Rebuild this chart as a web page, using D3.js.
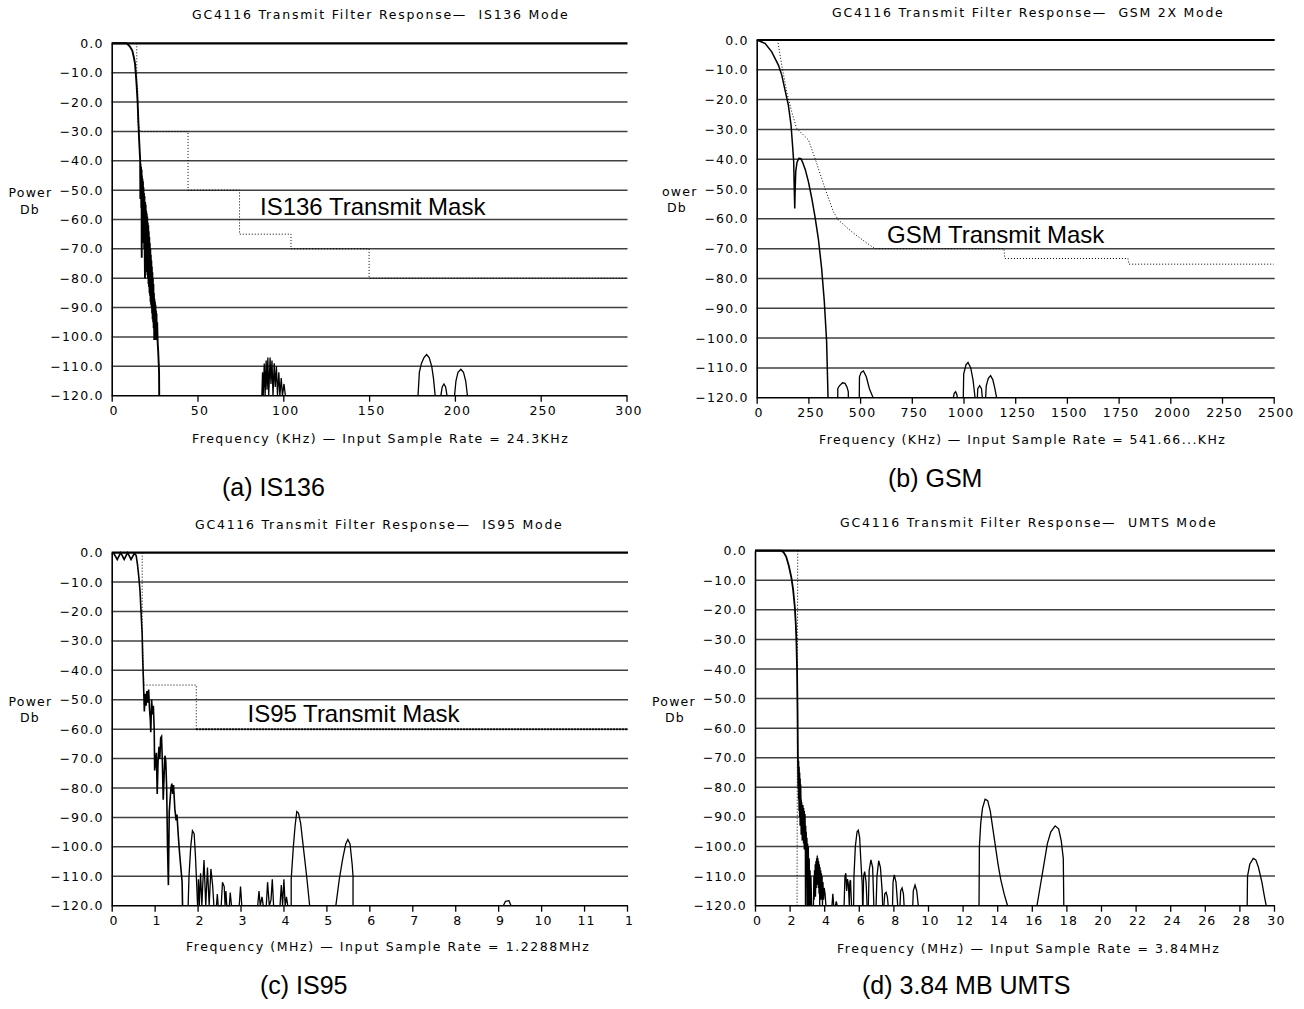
<!DOCTYPE html>
<html>
<head>
<script src="https://d3js.org/d3.v7.min.js"></script>
<style>
  body { margin: 0; background: #ffffff; }
  text { fill: #000; }
  .small { font-family: "DejaVu Sans", sans-serif; font-size: 12.5px; letter-spacing: 1.2px; white-space: pre; }
  .big { font-family: "Liberation Sans", Arial, sans-serif; }
</style>
</head>
<body>
<svg id="canvas" width="1304" height="1009"></svg>
<script>
const svg = d3.select('#canvas');

// ---- shared y axis ----
const dbTicks = [0, -10, -20, -30, -40, -50, -60, -70, -80, -90, -100, -110, -120];

// ---- (a) IS136, kHz ----
const is136Ticks = [0, 50, 100, 150, 200, 250, 300];
const is136TickLabels = ['0', '50', '100', '150', '200', '250', '300'];
const is136Response = [
  [0, 0], [8.7, 0], [10.5, -1], [12, -2.5], [13, -5], [13.6, -7], [14, -10], [14.5, -14], [15.1, -20],
  [15.5, -26], [16.0, -33], [16.6, -40],
  [16.7, -53], [16.8, -41], [16.95, -50], [17.1, -42], [17.25, -56], [17.4, -43], [17.5, -73], [17.6, -45],
  [17.75, -60], [17.9, -46], [18.05, -64], [18.2, -47], [18.35, -66], [18.5, -49], [18.65, -68], [18.8, -51],
  [18.95, -70], [19.1, -52], [19.25, -72], [19.4, -80], [19.5, -54], [19.65, -73], [19.8, -55], [19.95, -75],
  [20.1, -57], [20.25, -76], [20.4, -58], [20.55, -78], [20.7, -59], [20.85, -79], [21.0, -61], [21.15, -80],
  [21.3, -62], [21.45, -82], [21.6, -64], [21.75, -83], [21.9, -66], [22.05, -85], [22.2, -68], [22.35, -86],
  [22.5, -70], [22.65, -88], [22.8, -72], [22.95, -89], [23.1, -74], [23.25, -90], [23.4, -76], [23.55, -92],
  [23.7, -78], [23.85, -94], [24.0, -80], [24.15, -95], [24.3, -82], [24.45, -97], [24.6, -85], [24.8, -101],
  [24.9, -87], [25.05, -99], [25.2, -88], [25.35, -100], [25.5, -89], [25.65, -100], [25.8, -91], [25.95, -101],
  [26.1, -92], [26.3, -101], [26.5, -95], [26.8, -102], [27.1, -105], [27.4, -109], [27.6, -112], [27.7, -120]
];
const is136Lobes = [
  [[87.5, -120], [87.9, -112], [88.3, -120], [88.9, -109], [89.4, -120], [90.0, -108], [90.5, -118], [91.0, -107],
   [91.5, -120], [92.3, -107], [92.8, -116], [93.4, -108], [94.0, -120], [94.7, -109], [95.3, -117], [96.0, -110],
   [96.6, -120], [97.4, -112], [98.0, -120], [98.8, -114], [99.5, -120], [100.4, -116], [101.2, -120]],
  [[178.5, -120], [179.3, -112], [180.5, -109], [182, -107], [183.5, -106], [185, -107], [186.5, -110], [187.5, -114], [188.5, -120]],
  [[191.8, -120], [192.6, -117], [193.6, -116], [194.6, -117], [195.4, -120]],
  [[199.8, -120], [200.6, -115], [201.8, -112], [203.5, -111], [205, -112], [206.3, -115], [207.3, -120]]
];
const is136Mask = [
  [14.6, 0], [14.6, -13], [15.2, -16], [15.2, -27], [16.5, -30], [44.5, -30], [44.5, -50], [74.5, -50],
  [74.5, -65], [104.5, -65], [104.5, -70], [150, -70], [150, -80], [300, -80]
];

// ---- (b) GSM, kHz ----
const gsmTicks = [0, 250, 500, 750, 1000, 1250, 1500, 1750, 2000, 2250, 2500];
const gsmTickLabels = ['0', '250', '500', '750', '1000', '1250', '1500', '1750', '2000', '2250', '2500'];
const gsmResponse = [
  [0, 0], [40, -1.1], [72, -3.9], [105, -8.4], [121, -11.7], [137, -16.8], [153, -21.8], [166, -28.5],
  [174, -36], [179, -41], [181, -48], [184, -56.5], [186, -50], [189, -44], [195, -41], [204, -39.7],
  [214, -39.8], [222, -41], [235, -43.5], [250, -47.5], [266, -53], [282, -59.3], [298, -66.6],
  [314, -76.6], [327, -87.8], [338, -101], [345, -120]
];
const gsmLobes = [
  [[392, -120], [392, -117], [400, -116], [415, -115], [427, -115.2], [437, -116.5], [443, -118], [443, -120]],
  [[496, -120], [497, -113], [505, -111.5], [516, -111], [530, -113], [545, -117], [560, -119.5], [564, -120]],
  [[951, -120], [955, -118.5], [962, -118], [968, -119], [970, -120]],
  [[999, -120], [1001, -112], [1012, -109], [1022, -108.2], [1035, -110], [1046, -114], [1056, -120]],
  [[1067, -120], [1069, -117], [1078, -116], [1087, -117], [1091, -120]],
  [[1107, -120], [1110, -116], [1120, -113.5], [1131, -112.6], [1142, -114], [1152, -117], [1160, -120]]
];
const gsmMask = [
  [101, 0], [121, -8.4], [145, -17.3], [169, -24], [193, -29.6], [226, -31.9], [250, -33.5], [282, -39.7],
  [330, -49.8], [371, -57.6], [395, -60.4], [459, -64.3], [524, -67.7], [572, -70], [1195, -70],
  [1200, -73.3], [1795, -73.3], [1800, -75.2], [2500, -75.2]
];

// ---- (c) IS95, MHz ----
const is95Ticks = [0, 1, 2, 3, 4, 5, 6, 7, 8, 9, 10, 11, 12];
const is95TickLabels = ['0', '1', '2', '3', '4', '5', '6', '7', '8', '9', '10', '11', '1'];
const is95Response = [
  [0, 0], [0.05, -0.3], [0.13, -2.3], [0.21, 0], [0.29, -2.3], [0.37, 0], [0.45, -2.3], [0.53, -0.2],
  [0.57, -1], [0.6, -4], [0.63, -8], [0.66, -13], [0.69, -22], [0.71, -28], [0.72, -35], [0.735, -42],
  [0.75, -49], [0.76, -54], [0.78, -48], [0.8, -52], [0.82, -47], [0.84, -51], [0.86, -46.5], [0.88, -53],
  [0.9, -57], [0.91, -61], [0.93, -50], [0.95, -55], [0.97, -52], [0.99, -60], [1.0, -74], [1.02, -71],
  [1.04, -68], [1.06, -82], [1.08, -71], [1.1, -66], [1.12, -70], [1.14, -63], [1.16, -62.5], [1.18, -71],
  [1.2, -84], [1.22, -76], [1.24, -69], [1.26, -71], [1.28, -80], [1.3, -100], [1.32, -113], [1.34, -88],
  [1.36, -84], [1.38, -80], [1.4, -78.5], [1.42, -82], [1.44, -79], [1.47, -87], [1.5, -91], [1.52, -89],
  [1.55, -96], [1.58, -102], [1.61, -107], [1.64, -112], [1.65, -120]
];
const is95Lobes = [
  [[1.78, -120], [1.8, -110], [1.84, -100], [1.88, -94.5], [1.92, -95.5], [1.95, -103], [1.98, -113], [2.0, -120]],
  [[2.0, -120], [2.02, -111], [2.04, -120], [2.07, -109], [2.1, -120], [2.12, -113], [2.15, -104.5], [2.19, -120],
   [2.23, -107], [2.27, -120], [2.31, -107.5], [2.35, -113], [2.38, -120]],
  [[2.44, -120], [2.46, -116], [2.48, -120], [2.55, -120], [2.58, -112], [2.62, -113.5], [2.64, -120],
   [2.66, -115], [2.68, -120], [2.74, -120], [2.76, -115.5], [2.79, -120]],
  [[2.97, -120], [3.0, -113.5], [3.03, -120]],
  [[3.4, -120], [3.43, -115], [3.46, -120], [3.5, -117], [3.53, -120], [3.6, -120], [3.63, -112], [3.67, -120],
   [3.71, -118], [3.74, -111], [3.77, -120], [3.92, -120], [3.95, -113], [3.98, -120], [4.01, -111],
   [4.04, -120], [4.07, -117], [4.1, -120]],
  [[4.18, -120], [4.18, -111], [4.23, -100], [4.27, -93], [4.31, -88], [4.35, -88.5], [4.4, -92], [4.47, -101],
   [4.54, -110], [4.61, -120]],
  [[5.22, -120], [5.3, -111], [5.38, -104], [5.45, -99], [5.5, -97.5], [5.55, -99], [5.6, -106], [5.62, -110], [5.62, -120]],
  [[9.12, -120], [9.17, -118.5], [9.25, -118.3], [9.3, -120]]
];
const is95Mask = [[0.71, 0], [0.71, -25], [0.75, -45], [1.97, -45], [1.97, -60]];
const is95MaskFloor = [[1.97, -60], [12, -60]];

// ---- (d) UMTS, MHz ----
const umtsTicks = [0, 2, 4, 6, 8, 10, 12, 14, 16, 18, 20, 22, 24, 26, 28, 30];
const umtsTickLabels = ['0', '2', '4', '6', '8', '10', '12', '14', '16', '18', '20', '22', '24', '26', '28', '30'];
const umtsResponse = [
  [0, 0], [1.5, 0], [1.65, -0.5], [1.8, -2], [1.95, -5], [2.1, -9], [2.2, -13], [2.3, -19], [2.36, -25],
  [2.4, -32], [2.43, -40], [2.46, -55], [2.48, -70],
  [2.5, -80], [2.51, -71], [2.53, -84], [2.54, -73], [2.56, -88], [2.57, -75], [2.59, -90], [2.6, -77],
  [2.62, -93], [2.63, -79], [2.65, -88], [2.66, -84], [2.68, -96], [2.69, -85], [2.71, -95], [2.72, -86],
  [2.74, -98], [2.76, -86], [2.78, -97], [2.8, -87], [2.82, -99], [2.84, -88], [2.86, -101], [2.88, -89],
  [2.9, -100], [2.92, -93], [2.93, -120], [2.95, -95], [2.97, -106], [2.99, -97], [3.01, -110], [3.03, -99],
  [3.05, -120], [3.07, -100], [3.1, -116], [3.12, -104], [3.15, -120], [3.17, -108], [3.2, -120],
  [3.22, -110], [3.26, -120]
];
const umtsLobes = [
  [[3.38, -120], [3.4, -110], [3.42, -118], [3.44, -108], [3.46, -116], [3.48, -106], [3.5, -117], [3.52, -105],
   [3.54, -114], [3.56, -104], [3.58, -113], [3.6, -103], [3.62, -112], [3.64, -104], [3.66, -114], [3.68, -105],
   [3.7, -116], [3.72, -106], [3.74, -120], [3.76, -107], [3.78, -116], [3.8, -108], [3.82, -118], [3.84, -109],
   [3.86, -117], [3.88, -110], [3.9, -120], [3.93, -112], [3.96, -118], [4.0, -114], [4.05, -116], [4.1, -120]],
  [[4.45, -120], [4.5, -116], [4.55, -120]],
  [[4.65, -120], [4.7, -118.5], [4.75, -120]],
  [[5.15, -120], [5.2, -110], [5.25, -109], [5.3, -115], [5.35, -111], [5.4, -113], [5.45, -120], [5.48, -112],
   [5.52, -111.3], [5.58, -120]],
  [[5.7, -120], [5.72, -110], [5.8, -100], [5.9, -95], [5.97, -94.5], [6.05, -97], [6.12, -105], [6.2, -113], [6.22, -120]],
  [[6.24, -120], [6.28, -110], [6.34, -108.5], [6.42, -112], [6.48, -120]],
  [[6.55, -120], [6.6, -108], [6.7, -104.5], [6.8, -107], [6.87, -120]],
  [[7.0, -120], [7.05, -110], [7.15, -104.8], [7.25, -107], [7.35, -115], [7.38, -120]],
  [[7.45, -120], [7.5, -116], [7.58, -115.5], [7.65, -117], [7.7, -120]],
  [[7.95, -120], [7.98, -112], [8.05, -109.6], [8.15, -112], [8.25, -120]],
  [[8.38, -120], [8.42, -115], [8.5, -114], [8.58, -116], [8.62, -120]],
  [[9.12, -120], [9.15, -115], [9.25, -113], [9.35, -115], [9.44, -120]],
  [[12.95, -120], [12.97, -100], [13.05, -92], [13.15, -87], [13.3, -84], [13.45, -84.5], [13.6, -88], [13.75, -94],
   [13.9, -100], [14.05, -106], [14.2, -111], [14.4, -116], [14.6, -120]],
  [[16.3, -120], [16.5, -113], [16.7, -106], [16.9, -99], [17.1, -95], [17.35, -93], [17.55, -94], [17.7, -98],
   [17.82, -104], [17.85, -120]],
  [[28.45, -120], [28.47, -110], [28.6, -106], [28.8, -104], [28.95, -104.5], [29.1, -107], [29.3, -112],
   [29.45, -117], [29.55, -120]]
];
const umtsMask = [[2.47, 0], [2.43, -120]];

// ---- panel layout ----
const panels = [
  {
    left: 111.7, right: 626.5, top: 43.3, bottom: 395.7, xMax: 300, lineWidth: 1.9,
    ticks: is136Ticks, tickLabels: is136TickLabels,
    response: is136Response, lobes: is136Lobes, mask: is136Mask, maskBold: null,
    title: 'GC4116 Transmit Filter Response\u2014  IS136 Mode', titleX: 192, titleW: 377, titleY: 19,
    xLabel: 'Frequency (KHz) \u2014 Input Sample Rate = 24.3KHz', xLabelX: 192, xLabelW: 377, xLabelY: 443,
    yLabel: ['Power', 'Db'], yLabelX: [8.5, 20], yLabelY: [197, 214],
    maskLabel: 'IS136 Transmit Mask', maskLabelX: 260, maskLabelY: 215,
    caption: '(a) IS136', captionX: 222, captionY: 496
  },
  {
    left: 756.7, right: 1273.7, top: 40, bottom: 397.7, xMax: 2500, lineWidth: 1.5,
    ticks: gsmTicks, tickLabels: gsmTickLabels,
    response: gsmResponse, lobes: gsmLobes, mask: gsmMask, maskBold: null,
    title: 'GC4116 Transmit Filter Response\u2014  GSM 2X Mode', titleX: 832, titleW: 392, titleY: 17,
    xLabel: 'Frequency (KHz) \u2014 Input Sample Rate = 541.66...KHz', xLabelX: 819, xLabelW: 407, xLabelY: 444,
    yLabel: ['ower', 'Db'], yLabelX: [662, 667], yLabelY: [196, 212],
    maskLabel: 'GSM Transmit Mask', maskLabelX: 887, maskLabelY: 243,
    caption: '(b) GSM', captionX: 888, captionY: 487
  },
  {
    left: 111.7, right: 627, top: 552.7, bottom: 905.7, xMax: 12, lineWidth: 1.6,
    ticks: is95Ticks, tickLabels: is95TickLabels,
    response: is95Response, lobes: is95Lobes, mask: is95Mask, maskBold: is95MaskFloor,
    title: 'GC4116 Transmit Filter Response\u2014  IS95 Mode', titleX: 195, titleW: 368, titleY: 529,
    xLabel: 'Frequency (MHz) \u2014 Input Sample Rate = 1.2288MHz', xLabelX: 186, xLabelW: 404, xLabelY: 951,
    yLabel: ['Power', 'Db'], yLabelX: [8.5, 20], yLabelY: [706, 722],
    maskLabel: 'IS95 Transmit Mask', maskLabelX: 247.5, maskLabelY: 721.5,
    caption: '(c) IS95', captionX: 260, captionY: 994
  },
  {
    left: 755, right: 1274, top: 550.7, bottom: 905.7, xMax: 30, lineWidth: 1.8,
    ticks: umtsTicks, tickLabels: umtsTickLabels,
    response: umtsResponse, lobes: umtsLobes, mask: umtsMask, maskBold: null,
    title: 'GC4116 Transmit Filter Response\u2014  UMTS Mode', titleX: 840, titleW: 377, titleY: 527,
    xLabel: 'Frequency (MHz) \u2014 Input Sample Rate = 3.84MHz', xLabelX: 837, xLabelW: 383, xLabelY: 953,
    yLabel: ['Power', 'Db'], yLabelX: [652, 665], yLabelY: [706, 722],
    maskLabel: null,
    caption: '(d) 3.84 MB UMTS', captionX: 862, captionY: 994
  }
];

function drawPanel(p) {
  const g = svg.append('g');
  const x = d3.scaleLinear().domain([0, p.xMax]).range([p.left, p.right]);
  const y = d3.scaleLinear().domain([0, -120]).range([p.top, p.bottom]).clamp(true);
  const line = d3.line().x(d => x(d[0])).y(d => y(d[1]));

  //horizontal grid lines
  g.selectAll('.grid')
    .data(dbTicks)
    .enter()
    .append('line')
    .attr('x1', p.left).attr('x2', p.right + 1)
    .attr('y1', d => y(d)).attr('y2', d => y(d))
    .attr('stroke', d => (d === 0 || d === -120) ? '#000' : '#404040')
    .attr('stroke-width', d => d === 0 ? 2.2 : 1.5);

  //y axis labels
  const yAxis = d3.axisLeft(y)
    .tickValues(dbTicks)
    .tickSize(0)
    .tickPadding(8)
    .tickFormat(d => d === 0 ? '0.0' : '\u2212' + Math.abs(d).toFixed(1));
  const ya = g.append('g').attr('transform', `translate(${p.left},0)`).call(yAxis);
  ya.select('.domain').attr('stroke', '#000').attr('stroke-width', 1.6);
  ya.selectAll('text').attr('class', 'small').attr('font-family', null).attr('font-size', null);

  //x axis with ticks
  const xAxis = d3.axisBottom(x)
    .tickValues(p.ticks)
    .tickSize(6)
    .tickPadding(4)
    .tickFormat((d, i) => p.tickLabels[i]);
  const xa = g.append('g').attr('transform', `translate(0,${p.bottom})`).call(xAxis);
  xa.select('.domain').remove();
  xa.selectAll('.tick line').attr('stroke', '#000').attr('stroke-width', 1.3);
  xa.selectAll('text').attr('class', 'small').attr('font-family', null).attr('font-size', null)
    .attr('dx', '2px');

  //transmit mask (dotted)
  g.append('path')
    .attr('d', line(p.mask))
    .attr('fill', 'none')
    .attr('stroke', '#000')
    .attr('stroke-width', 1)
    .attr('stroke-dasharray', '1,2');
  if (p.maskBold) {
    g.append('path')
      .attr('d', line(p.maskBold))
      .attr('fill', 'none')
      .attr('stroke', '#000')
      .attr('stroke-width', 2)
      .attr('stroke-dasharray', '1.5,1.5');
  }

  //filter response
  g.append('path')
    .attr('d', line(p.response))
    .attr('fill', 'none')
    .attr('stroke', '#000')
    .attr('stroke-width', p.lineWidth);
  g.selectAll('.lobe')
    .data(p.lobes)
    .enter()
    .append('path')
    .attr('d', d => line(d))
    .attr('fill', 'none')
    .attr('stroke', '#000')
    .attr('stroke-width', 1.3);

  //texts
  g.append('text').attr('class', 'small')
    .attr('x', p.titleX).attr('y', p.titleY)
    .attr('textLength', p.titleW).attr('lengthAdjust', 'spacing')
    .text(p.title);
  g.append('text').attr('class', 'small')
    .attr('x', p.xLabelX).attr('y', p.xLabelY)
    .attr('textLength', p.xLabelW).attr('lengthAdjust', 'spacing')
    .text(p.xLabel);
  p.yLabel.forEach((t, i) => {
    g.append('text').attr('class', 'small')
      .attr('x', p.yLabelX[i]).attr('y', p.yLabelY[i])
      .text(t);
  });
  if (p.maskLabel) {
    g.append('text').attr('class', 'big')
      .attr('x', p.maskLabelX).attr('y', p.maskLabelY)
      .attr('font-size', 24)
      .text(p.maskLabel);
  }
  g.append('text').attr('class', 'big')
    .attr('x', p.captionX).attr('y', p.captionY)
    .attr('font-size', 25)
    .text(p.caption);
}

panels.forEach(drawPanel);
</script>
</body>
</html>
